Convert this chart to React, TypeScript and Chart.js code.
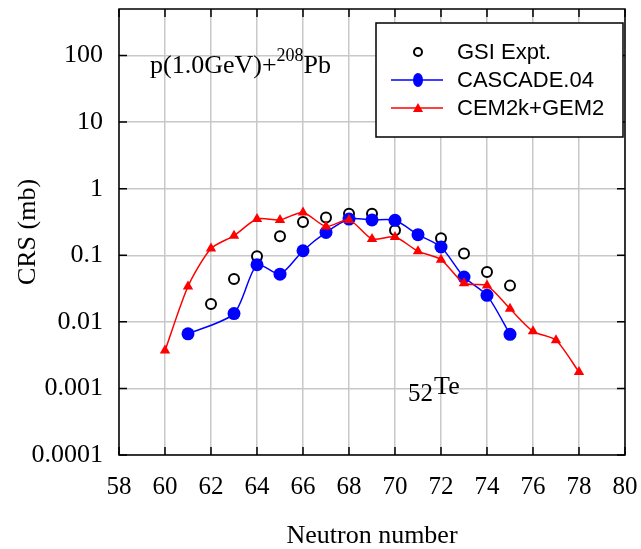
import React, { useEffect, useRef } from "react";
import { Chart, registerables } from "chart.js";

Chart.register(...registerables);

// ---- data ----
const neutronGSI = [62, 63, 64, 65, 66, 67, 68, 69, 70, 72, 73, 74, 75];
const crsGSI = [0.0186, 0.044, 0.097, 0.193, 0.316, 0.37, 0.42, 0.42, 0.237, 0.18, 0.106, 0.056, 0.035];

const neutronCascade = [61, 63, 64, 65, 66, 67, 68, 69, 70, 71, 72, 73, 74, 75];
const crsCascade = [0.0066, 0.0133, 0.072, 0.052, 0.117, 0.22, 0.35, 0.34, 0.335, 0.204, 0.133, 0.047, 0.025, 0.0065];

const neutronCEM = [60, 61, 62, 63, 64, 65, 66, 67, 68, 69, 70, 71, 72, 73, 74, 75, 76, 77, 78];
const crsCEM = [0.0037, 0.034, 0.126, 0.197, 0.35, 0.34, 0.44, 0.27, 0.34, 0.176, 0.188, 0.115, 0.086, 0.038, 0.035, 0.0157, 0.0072, 0.0053, 0.00176];

const xTicks = [58, 60, 62, 64, 66, 68, 70, 72, 74, 76, 78, 80];
const yTicks = [0.0001, 0.001, 0.01, 0.1, 1, 10, 100];
const yTickLabels = ["0.0001", "0.001", "0.01", "0.1", "1", "10", "100"];

const seriesNames = ["GSI Expt.", "CASCADE.04", "CEM2k+GEM2"];

const SERIF = '"Liberation Serif", "Times New Roman", serif';
const SANS = '"Liberation Sans", Arial, sans-serif';

const toXY = (xs: number[], ys: number[]) => xs.map((x, i) => ({ x, y: ys[i] }));

const framePlugin = {
  id: "frame",
  beforeDatasetsDraw(chart: any) {
    const { ctx, chartArea: a, scales } = chart;
    const xs = scales.x;
    const ys = scales.y;
    ctx.save();
    ctx.strokeStyle = "#000";
    ctx.lineWidth = 1.5;
    const tl = 8;
    ctx.beginPath();
    xTicks.forEach((v) => {
      const px = xs.getPixelForValue(v);
      ctx.moveTo(px, a.bottom);
      ctx.lineTo(px, a.bottom - tl);
      ctx.moveTo(px, a.top);
      ctx.lineTo(px, a.top + tl);
    });
    yTicks.forEach((v) => {
      const py = ys.getPixelForValue(v);
      ctx.moveTo(a.left, py);
      ctx.lineTo(a.left + tl, py);
      ctx.moveTo(a.right, py);
      ctx.lineTo(a.right - tl, py);
    });
    ctx.stroke();
    ctx.strokeRect(a.left, a.top, a.right - a.left, a.bottom - a.top);
    ctx.restore();
  },
  afterDatasetsDraw(chart: any) {
    const { ctx, scales } = chart;
    const xs = scales.x;
    const ys = scales.y;
    ctx.save();
    // reaction annotation
    ctx.fillStyle = "#000";
    ctx.textBaseline = "alphabetic";
    ctx.textAlign = "left";
    let x0 = xs.getPixelForValue(59.35);
    const yb = ys.getPixelForValue(55);
    ctx.font = `26px ${SERIF}`;
    const t1 = "p(1.0GeV)+";
    ctx.fillText(t1, x0, yb);
    x0 += ctx.measureText(t1).width;
    ctx.font = `18px ${SERIF}`;
    ctx.fillText("208", x0, yb - 12);
    x0 += ctx.measureText("208").width;
    ctx.font = `26px ${SERIF}`;
    ctx.fillText("Pb", x0, yb);

    // element annotation
    let x1 = xs.getPixelForValue(70.57);
    const yb2 = ys.getPixelForValue(0.00064);
    ctx.font = `25px ${SERIF}`;
    ctx.fillText("52", x1, yb2);
    x1 += ctx.measureText("52").width + 1;
    ctx.font = `26px ${SERIF}`;
    ctx.fillText("Te", x1, yb2 - 7);

    // legend box
    const bx = 376, by = 23, bw = 247, bh = 114;
    ctx.fillStyle = "#fff";
    ctx.fillRect(bx, by, bw, bh);
    ctx.strokeStyle = "#000";
    ctx.lineWidth = 1.5;
    ctx.strokeRect(bx, by, bw, bh);

    const rows = [52, 80, 108];
    const lx0 = 391, lx1 = 443, mx = 418, tx = 457;
    ctx.font = `22px ${SANS}`;
    ctx.textBaseline = "middle";
    // GSI
    ctx.beginPath();
    ctx.arc(mx, rows[0], 4, 0, Math.PI * 2);
    ctx.fillStyle = "#fff";
    ctx.fill();
    ctx.strokeStyle = "#000";
    ctx.lineWidth = 2;
    ctx.stroke();
    // CASCADE
    ctx.strokeStyle = "#0000ff";
    ctx.lineWidth = 1.5;
    ctx.beginPath();
    ctx.moveTo(lx0, rows[1]);
    ctx.lineTo(lx1, rows[1]);
    ctx.stroke();
    ctx.fillStyle = "#0000ff";
    ctx.beginPath();
    ctx.ellipse(mx, rows[1], 5, 7, 0, 0, Math.PI * 2);
    ctx.fill();
    // CEM
    ctx.strokeStyle = "#ff0000";
    ctx.beginPath();
    ctx.moveTo(lx0, rows[2]);
    ctx.lineTo(lx1, rows[2]);
    ctx.stroke();
    ctx.fillStyle = "#ff0000";
    ctx.beginPath();
    ctx.moveTo(mx, rows[2] - 5);
    ctx.lineTo(mx + 5, rows[2] + 4);
    ctx.lineTo(mx - 5, rows[2] + 4);
    ctx.closePath();
    ctx.fill();

    ctx.fillStyle = "#000";
    seriesNames.forEach((n, i) => ctx.fillText(n, tx, rows[i] + 1));
    ctx.restore();
  },
};

const zeroPad = (s: any) => {
  s.paddingTop = 0;
  s.paddingBottom = 0;
  s.paddingLeft = 0;
  s.paddingRight = 0;
};

export default function App() {
  const ref = useRef<HTMLCanvasElement | null>(null);
  useEffect(() => {
    if (!ref.current) return;
    const chart = new Chart(ref.current, {
      type: "scatter",
      data: {
        datasets: [
          {
            label: seriesNames[2],
            data: toXY(neutronCEM, crsCEM),
            showLine: true,
            borderColor: "#ff0000",
            backgroundColor: "#ff0000",
            borderWidth: 1.5,
            pointStyle: "triangle",
            pointRadius: 6,
            pointBorderWidth: 0,
            tension: 0.25,
            order: 1,
          },
          {
            label: seriesNames[1],
            data: toXY(neutronCascade, crsCascade),
            showLine: true,
            borderColor: "#0000ff",
            backgroundColor: "#0000ff",
            borderWidth: 1.5,
            pointStyle: "circle",
            pointRadius: 6.5,
            pointBorderWidth: 0,
            tension: 0.25,
            order: 2,
          },
          {
            label: seriesNames[0],
            data: toXY(neutronGSI, crsGSI),
            showLine: false,
            borderColor: "#000000",
            backgroundColor: "#ffffff",
            pointStyle: "circle",
            pointRadius: 5,
            pointBorderWidth: 2,
            order: 3,
          },
        ],
      },
      options: {
        responsive: false,
        animation: false,
        layout: { padding: { left: 0, top: 9, right: 16, bottom: 0 } },
        plugins: {
          legend: { display: false },
          tooltip: { enabled: false },
        },
        scales: {
          x: {
            type: "linear",
            min: 58,
            max: 80,
            afterBuildTicks: (s: any) => {
              s.ticks = xTicks.map((v) => ({ value: v }));
            },
            afterFit: (s: any) => {
              s.height = 94;
              zeroPad(s);
            },
            grid: { color: "#c8c8c8", lineWidth: 1.5, drawTicks: false },
            border: { display: false },
            ticks: {
              color: "#000",
              padding: 17,
              maxRotation: 0,
              autoSkip: false,
              font: { family: SERIF, size: 25 },
              callback: (v: any) => String(v),
            },
            title: {
              display: true,
              text: "Neutron number",
              color: "#000",
              font: { family: SERIF, size: 26, lineHeight: 1 },
              padding: { top: 0, bottom: 0 },
            },
          },
          y: {
            type: "logarithmic",
            min: 0.0001,
            max: 500,
            afterBuildTicks: (s: any) => {
              s.ticks = yTicks.map((v) => ({ value: v }));
            },
            afterFit: (s: any) => {
              s.width = 119;
              zeroPad(s);
            },
            grid: { color: "#c8c8c8", lineWidth: 1.5, drawTicks: false },
            border: { display: false },
            ticks: {
              color: "#000",
              padding: 16,
              autoSkip: false,
              font: { family: SERIF, size: 26 },
              callback: (v: any) => {
                const i = yTicks.findIndex((t) => Math.abs(Math.log10(t) - Math.log10(v)) < 1e-6);
                return i >= 0 ? yTickLabels[i] : "";
              },
            },
            title: {
              display: true,
              text: "CRS (mb)",
              color: "#000",
              font: { family: SERIF, size: 26, lineHeight: 1 },
              padding: { top: 15, bottom: 0 },
            },
          },
        },
      },
      plugins: [framePlugin],
    });
    return () => chart.destroy();
  }, []);
  return (
    <canvas
      ref={ref}
      width={641}
      height={549}
      style={{ position: "absolute", left: 0, top: 0, width: 641, height: 549, display: "block", background: "#fff" }}
    />
  );
}
